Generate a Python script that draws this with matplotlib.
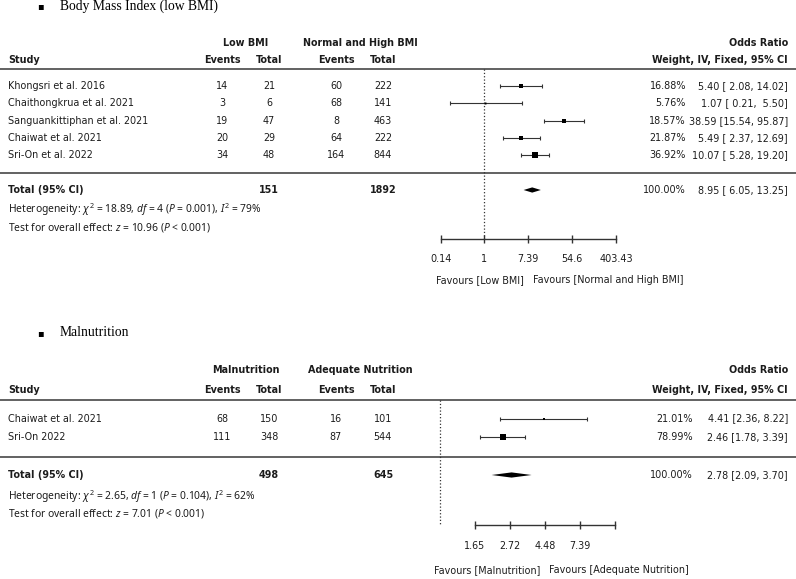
"""
Forest plots : IMC bas et malnutrition (odds ratio, IV, effets fixes).
"""
import numpy as np
import matplotlib

matplotlib.use("Agg")
import matplotlib.pyplot as plt

# --- Panel 1 : Body Mass Index ---
bmi_studies = ["Khongsri et al. 2016", "Chaithongkrua et al. 2021",
               "Sanguankittiphan et al. 2021", "Chaiwat et al. 2021", "Sri-On et al. 2022"]
bmi_ev1 = [14, 3, 19, 20, 34]
bmi_tot1 = [21, 6, 47, 29, 48]
bmi_ev2 = [60, 68, 8, 64, 164]
bmi_tot2 = [222, 141, 463, 222, 844]
bmi_weight = [16.88, 5.76, 18.57, 21.87, 36.92]
bmi_or = [5.40, 1.07, 38.59, 5.49, 10.07]
bmi_lo = [2.08, 0.21, 15.54, 2.37, 5.28]
bmi_hi = [14.02, 5.50, 95.87, 12.69, 19.20]
bmi_totals = [151, 1892]
bmi_pooled = [8.95, 6.05, 13.25]
bmi_ticks = [0.14, 1, 7.39, 54.6, 403.43]
bmi_ticklabels = ["0.14", "1", "7.39", "54.6", "403.43"]

# --- Panel 2 : Malnutrition ---
mal_studies = ["Chaiwat et al. 2021", "Sri-On 2022"]
mal_ev1 = [68, 111]
mal_tot1 = [150, 348]
mal_ev2 = [16, 87]
mal_tot2 = [101, 544]
mal_weight = [21.01, 78.99]
mal_or = [4.41, 2.46]
mal_lo = [2.36, 1.78]
mal_hi = [8.22, 3.39]
mal_totals = [498, 645]
mal_pooled = [2.78, 2.09, 3.70]
mal_ticks = [1.65, 2.72, 4.48, 7.39, 12.18]
mal_ticklabels = ["1.65", "2.72", "4.48", "7.39", ""]

W, H = 796, 579
FS = 6.9
TXT = "#1c1c1c"
LINE = "#555555"
STAT_FONT = "Noto Sans"

plt.rcParams["mathtext.fontset"] = "custom"
plt.rcParams["mathtext.rm"] = STAT_FONT
plt.rcParams["mathtext.it"] = STAT_FONT + ":italic"

fig = plt.figure(figsize=(W / 100, H / 100), dpi=100)
axt = fig.add_axes([0, 0, 1, 1])
axt.set_xlim(0, W)
axt.set_ylim(H, 0)
axt.axis("off")


def panel(title, y_title, grp1, grp2, y_grp, y_sub, y_line, studies, ev1, tot1, ev2, tot2,
          weight, orr, lo, hi, totals, pooled, y_row0, step, y_line2, y_total, het, y_het,
          test, y_test, ref_px, px_per_ln, ticks, ticklabels, y_axis, fav1, fav2, y_fav,
          w_right, pad_ci):
    # titre
    axt.text(40, y_title, "▪", fontsize=7, ha="center", va="center", color="black")
    axt.text(60, y_title, title, fontsize=9.8, family="Liberation Serif", va="center", color="black")

    # en-têtes
    kw = dict(fontsize=FS, fontweight="bold", va="center", color=TXT)
    axt.text(246, y_grp, grp1, ha="center", **kw)
    axt.text(360, y_grp, grp2, ha="center", **kw)
    axt.text(788, y_grp, "Odds Ratio", ha="right", **kw)
    axt.text(8, y_sub, "Study", ha="left", **kw)
    for xc, lab in zip([222, 269, 336, 383], ["Events", "Total", "Events", "Total"]):
        axt.text(xc, y_sub, lab, ha="center", **kw)
    axt.text(788, y_sub, "Weight, IV, Fixed, 95% CI", ha="right", **kw)
    axt.plot([0, W], [y_line, y_line], color=LINE, lw=1.3)
    axt.plot([0, W], [y_line2, y_line2], color=LINE, lw=1.3)

    # lignes d'études
    rows = [y_row0 + i * step for i in range(len(studies))]
    fmt = "{:.2f} [{:>5.2f}, {:>5.2f}]" if pad_ci else "{:.2f} [{:.2f}, {:.2f}]"
    kr = dict(fontsize=FS, va="center", color=TXT)
    for i, y in enumerate(rows):
        axt.text(8, y, studies[i], ha="left", **kr)
        for xc, v in zip([222, 269, 336, 383], [ev1[i], tot1[i], ev2[i], tot2[i]]):
            axt.text(xc, y, str(v), ha="center", **kr)
        axt.text(w_right, y, f"{weight[i]:.2f}%", ha="right", **kr)
        axt.text(788, y, fmt.format(orr[i], lo[i], hi[i]), ha="right", **kr)

    # total
    axt.text(8, y_total, "Total (95% CI)", ha="left", **kw)
    axt.text(269, y_total, str(totals[0]), ha="center", **kw)
    axt.text(383, y_total, str(totals[1]), ha="center", **kw)
    axt.text(w_right, y_total, "100.00%", ha="right", **kr)
    axt.text(788, y_total, fmt.format(*pooled), ha="right", **kr)
    axt.text(8, y_het, het, ha="left", fontsize=7.4, family=STAT_FONT, va="center", color=TXT)
    axt.text(8, y_test, test, ha="left", fontsize=7.4, family=STAT_FONT, va="center", color=TXT)

    # forest plot
    x0, x1 = 430, 630
    ax = fig.add_axes([x0 / W, 0, (x1 - x0) / W, 1])
    ax.patch.set_visible(False)
    ax.set_xscale("log")
    ax.set_xlim(np.exp((x0 - ref_px) / px_per_ln), np.exp((x1 - ref_px) / px_per_ln))
    ax.set_ylim(H, 0)
    for s in ["left", "right", "top"]:
        ax.spines[s].set_visible(False)
    ax.set_yticks([])
    ax.spines["bottom"].set_position(("data", y_axis))
    ax.spines["bottom"].set_bounds(ticks[0], ticks[-1])
    ax.spines["bottom"].set_color("#333333")
    ax.spines["bottom"].set_linewidth(1.0)
    ax.set_xticks(ticks)
    ax.set_xticklabels(ticklabels)
    ax.xaxis.set_minor_locator(matplotlib.ticker.NullLocator())
    ax.tick_params(axis="x", direction="inout", length=6, width=1.0, color="#333333",
                   labelsize=FS, labelcolor=TXT, pad=8.5)

    ax.plot([1, 1], [y_line, y_axis], color="#333333", lw=0.9, ls=":")
    wmax = max(weight)
    for i, y in enumerate(rows):
        ax.errorbar(orr[i], y, xerr=[[orr[i] - lo[i]], [hi[i] - orr[i]]], fmt="none",
                    ecolor="#333333", elinewidth=0.8, capsize=1.5, capthick=0.8)
        ax.plot(orr[i], y, marker="s", ms=max(5.0 * (weight[i] / wmax) ** 0.7, 1.4),
                color="black", mec="black", mew=0)
    est, plo, phi = pooled
    hd = 2.6
    ax.fill([plo, est, phi, est], [y_total, y_total - hd, y_total, y_total + hd], color="black", lw=0)

    mid = np.sqrt(ticks[0] * ticks[-1])
    ax.annotate(fav1, (mid, y_fav), xytext=(-3, 0), textcoords="offset points",
                ha="right", va="center", fontsize=FS, color=TXT)
    ax.annotate(fav2, (mid, y_fav), xytext=(3, 0), textcoords="offset points",
                ha="left", va="center", fontsize=FS, color=TXT)


panel("Body Mass Index (low BMI)", 6, "Low BMI", "Normal and High BMI", 43, 60, 69,
      bmi_studies, bmi_ev1, bmi_tot1, bmi_ev2, bmi_tot2, bmi_weight, bmi_or, bmi_lo, bmi_hi,
      bmi_totals, bmi_pooled, 86, 17.3, 173, 190,
      r"Heterogeneity: $\chi^2$ = 18.89, $df$ = 4 ($P$ = 0.001), $I^2$ = 79%", 210,
      r"Test for overall effect: $z$ = 10.96 ($P$ < 0.001)", 228,
      484, 22, bmi_ticks, bmi_ticklabels, 238.5,
      "Favours [Low BMI]", "Favours [Normal and High BMI]", 280, 686, True)

panel("Malnutrition", 333, "Malnutrition", "Adequate Nutrition", 370, 390, 400,
      mal_studies, mal_ev1, mal_tot1, mal_ev2, mal_tot2, mal_weight, mal_or, mal_lo, mal_hi,
      mal_totals, mal_pooled, 418.5, 18.5, 457, 475,
      r"Heterogeneity: $\chi^2$ = 2.65, $df$ = 1 ($P$ = 0.104), $I^2$ = 62%", 497,
      r"Test for overall effect: $z$ = 7.01 ($P$ < 0.001)", 513,
      440, 70, mal_ticks, mal_ticklabels, 525,
      "Favours [Malnutrition]", "Favours [Adequate Nutrition]", 570, 693, False)

fig.savefig("out.png", dpi=100)
